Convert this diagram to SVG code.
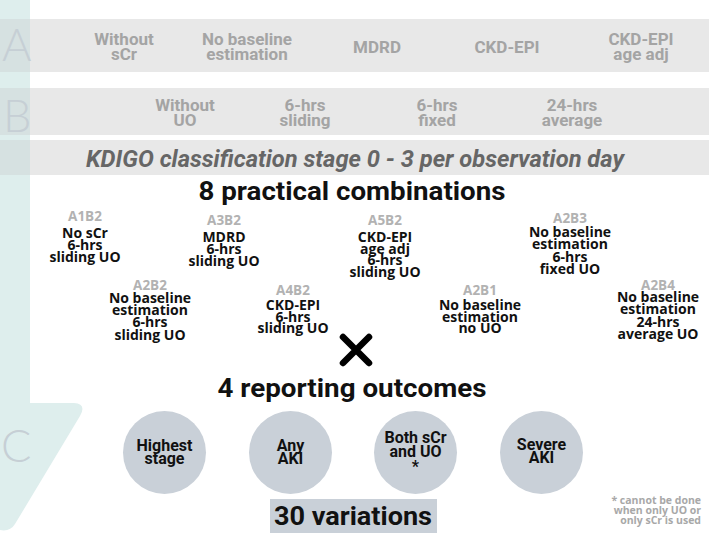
<svg xmlns="http://www.w3.org/2000/svg" width="709" height="533" viewBox="0 0 709 533">
<style>
.band{fill:#e8e8e8}
.ovl{fill:#d6e1e1}
.big{font-family:Lato,"Open Sans","DejaVu Sans",sans-serif;font-weight:300;font-size:45px;fill:#c6cfd5}
.hdr{font-family:Roboto,"Liberation Sans",sans-serif;font-weight:700;font-size:17px;fill:#a4a4a4;text-anchor:middle}
.title{font-family:Roboto,"Liberation Sans",sans-serif;font-weight:700;font-size:26px;fill:#111;text-anchor:middle}
.kd{font-family:Roboto,"Liberation Sans",sans-serif;font-weight:700;font-style:italic;font-size:24px;fill:#666;text-anchor:middle}
.lab{font-family:"Open Sans","DejaVu Sans",sans-serif;font-weight:700;font-size:13.5px;fill:#b2b2b2;text-anchor:middle}
.ent{font-family:"Open Sans","DejaVu Sans",sans-serif;font-weight:700;font-size:14px;fill:#111;text-anchor:middle}
.circ{fill:#c9d0d8}
.ct{font-family:Roboto,"Liberation Sans",sans-serif;font-weight:700;font-size:16px;fill:#111;text-anchor:middle}
.foot{font-family:"Open Sans","DejaVu Sans",sans-serif;font-weight:700;font-size:10.5px;fill:#a8a8a8;text-anchor:end}
</style>
<g id="background">
<rect class="band" x="0" y="19" width="709" height="53"/>
<rect class="band" x="0" y="88" width="709" height="47"/>
<rect class="band" x="0" y="140" width="709" height="35"/>
<path id="flow-arrow" d="M0,0 H30 V403 H74 Q87,404 80,416 L15,524 Q10,532 0,530 Z" fill="#deeeed"/>
<rect class="ovl" x="0" y="19" width="30" height="53"/>
<rect class="ovl" x="0" y="88" width="30" height="47"/>
<rect class="ovl" x="0" y="140" width="30" height="35"/>
<text class="big" x="2" y="61">A</text>
<text class="big" x="3" y="132">B</text>
<text class="big" x="1" y="462">C</text>
</g>
<g id="connectors"/>
<g id="rowA">
<text class="hdr" x="124" y="45">Without<tspan x="124" y="60">sCr</tspan></text>
<text class="hdr" x="247" y="45">No baseline<tspan x="247" y="60">estimation</tspan></text>
<text class="hdr" x="377" y="53">MDRD</text>
<text class="hdr" x="507" y="53">CKD-EPI</text>
<text class="hdr" x="641" y="45">CKD-EPI<tspan x="641" y="60">age adj</tspan></text>
</g>
<g id="rowB">
<text class="hdr" x="185" y="111">Without<tspan x="185" y="126">UO</tspan></text>
<text class="hdr" x="305" y="111">6-hrs<tspan x="305" y="126">sliding</tspan></text>
<text class="hdr" x="437" y="111">6-hrs<tspan x="437" y="126">fixed</tspan></text>
<text class="hdr" x="572" y="111">24-hrs<tspan x="572" y="126">average</tspan></text>
</g>
<g id="kdigo">
<text class="kd" x="355" y="167" textLength="538" lengthAdjust="spacingAndGlyphs">KDIGO classification stage 0 - 3 per observation day</text>
</g>
<g id="combinations-title">
<text class="title" x="352" y="200" textLength="307" lengthAdjust="spacingAndGlyphs">8 practical combinations</text>
</g>
<g id="A1B2">
<text class="lab" x="85" y="221">A1B2</text>
<text class="ent" x="85" y="238">No sCr<tspan x="85" y="250">6-hrs</tspan><tspan x="85" y="262">sliding UO</tspan></text>
</g>
<g id="A3B2">
<text class="lab" x="224" y="225">A3B2</text>
<text class="ent" x="224" y="242">MDRD<tspan x="224" y="254">6-hrs</tspan><tspan x="224" y="266">sliding UO</tspan></text>
</g>
<g id="A5B2">
<text class="lab" x="385" y="225">A5B2</text>
<text class="ent" x="385" y="242">CKD-EPI<tspan x="385" y="254">age adj</tspan><tspan x="385" y="265">6-hrs</tspan><tspan x="385" y="277">sliding UO</tspan></text>
</g>
<g id="A2B3">
<text class="lab" x="570" y="223">A2B3</text>
<text class="ent" x="570" y="237">No baseline<tspan x="570" y="249">estimation</tspan><tspan x="570" y="262">6-hrs</tspan><tspan x="570" y="274">fixed UO</tspan></text>
</g>
<g id="A2B2">
<text class="lab" x="150" y="290">A2B2</text>
<text class="ent" x="150" y="303">No baseline<tspan x="150" y="315">estimation</tspan><tspan x="150" y="327">6-hrs</tspan><tspan x="150" y="340">sliding UO</tspan></text>
</g>
<g id="A4B2">
<text class="lab" x="293" y="295">A4B2</text>
<text class="ent" x="293" y="310">CKD-EPI<tspan x="293" y="322">6-hrs</tspan><tspan x="293" y="333">sliding UO</tspan></text>
</g>
<g id="A2B1">
<text class="lab" x="480" y="295">A2B1</text>
<text class="ent" x="480" y="310">No baseline<tspan x="480" y="322">estimation</tspan><tspan x="480" y="333">no UO</tspan></text>
</g>
<g id="A2B4">
<text class="lab" x="658" y="290">A2B4</text>
<text class="ent" x="658" y="302">No baseline<tspan x="658" y="314">estimation</tspan><tspan x="658" y="327">24-hrs</tspan><tspan x="658" y="339">average UO</tspan></text>
</g>
<g id="times">
<path d="M343,337 L369,363 M369,337 L343,363" stroke="#000" stroke-width="6.5" stroke-linecap="round" fill="none"/>
</g>
<g id="outcomes-title">
<text class="title" x="352" y="397" textLength="269" lengthAdjust="spacingAndGlyphs">4 reporting outcomes</text>
</g>
<g id="highest-stage">
<circle class="circ" cx="164.5" cy="452.5" r="41.5"/>
<text class="ct" x="164.5" y="451">Highest<tspan x="164.5" y="464">stage</tspan></text>
</g>
<g id="any-aki">
<circle class="circ" cx="290.5" cy="452.5" r="41.5"/>
<text class="ct" x="290.5" y="451">Any<tspan x="290.5" y="464">AKI</tspan></text>
</g>
<g id="both">
<circle class="circ" cx="415.5" cy="452.5" r="41.5"/>
<text class="ct" x="415.5" y="443">Both sCr<tspan x="415.5" y="457">and UO</tspan></text>
<text class="ct" x="415.5" y="472" font-size="10">*</text>
</g>
<g id="severe-aki">
<circle class="circ" cx="541.5" cy="452.5" r="41.5"/>
<text class="ct" x="541.5" y="450">Severe<tspan x="541.5" y="463">AKI</tspan></text>
</g>
<g id="variations">
<rect class="circ" x="270" y="499" width="167" height="34"/>
<text class="title" x="353" y="525" textLength="158" lengthAdjust="spacingAndGlyphs">30 variations</text>
</g>
<g id="footnote">
<text class="foot" x="701" y="504">* cannot be done<tspan x="701" y="514">when only UO or</tspan><tspan x="701" y="524">only sCr is used</tspan></text>
</g>
</svg>
